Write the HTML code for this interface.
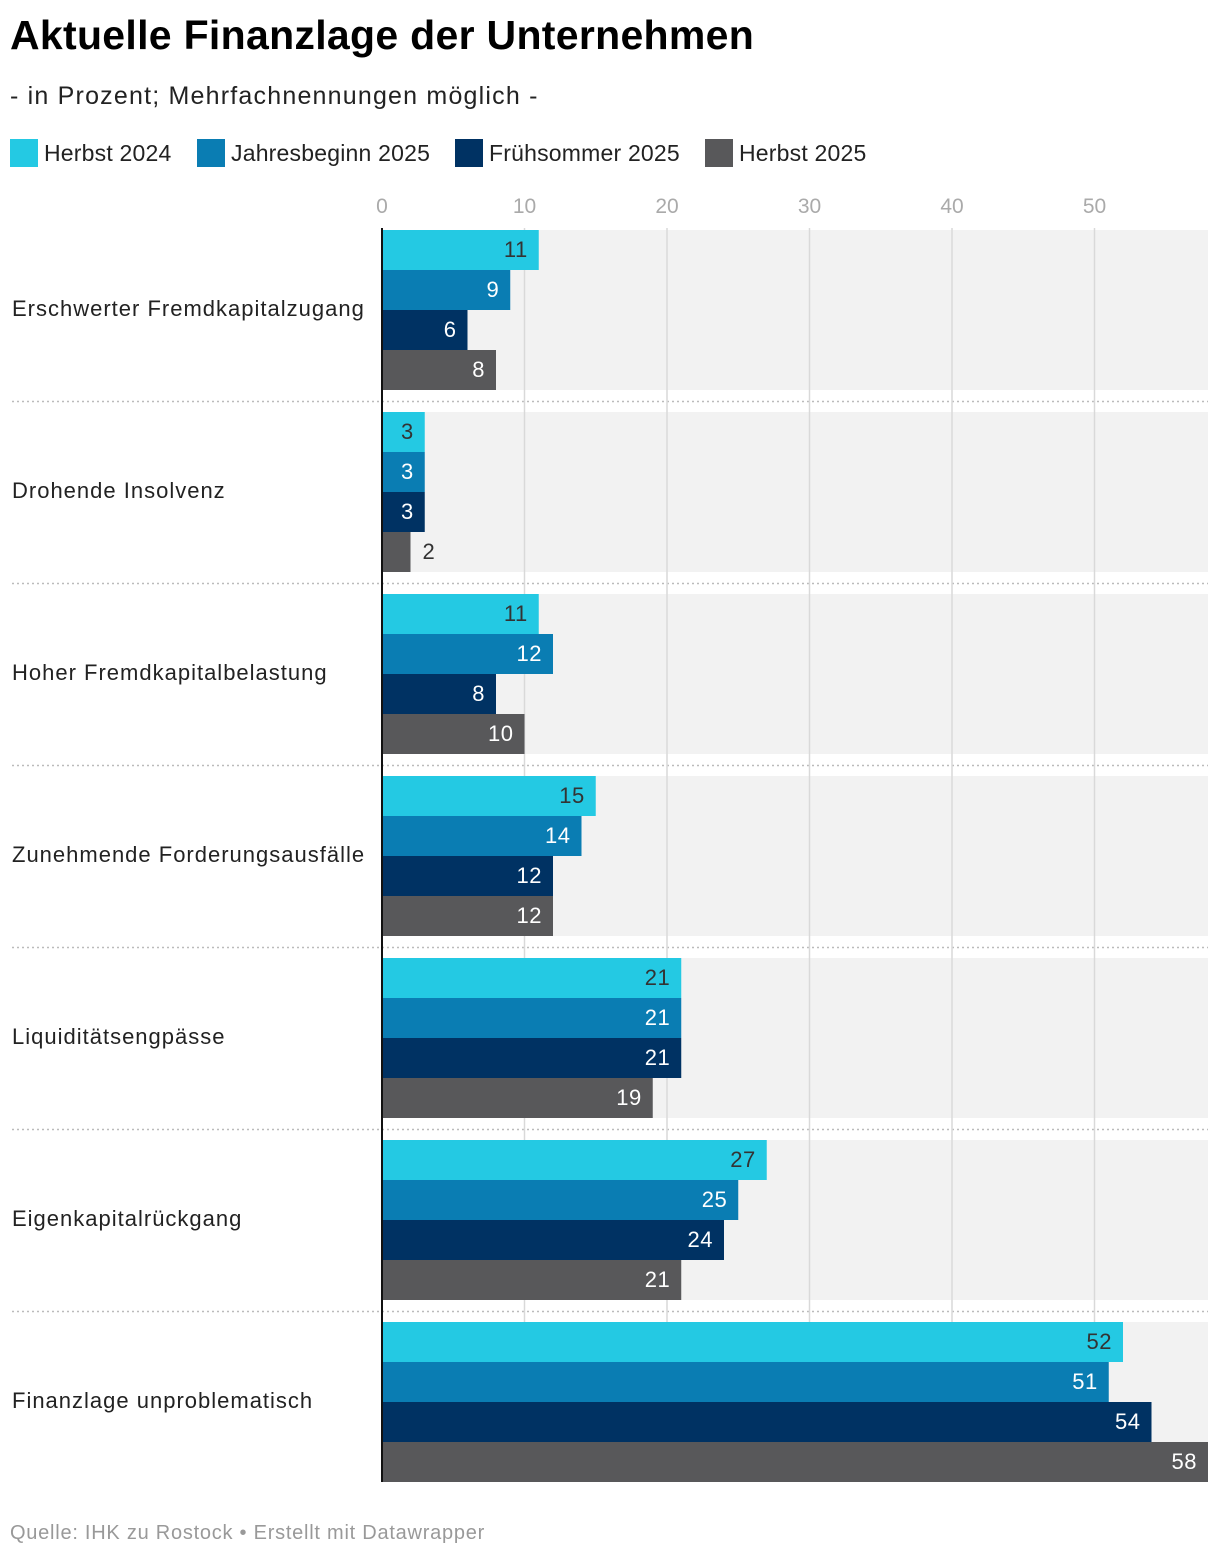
<!DOCTYPE html>
<html><head><meta charset="utf-8">
<style>
body{margin:0;background:#fff;font-family:"Liberation Sans",Arial,sans-serif;width:1220px;height:1558px;overflow:hidden;position:relative}
.t{position:absolute;white-space:nowrap}
</style></head><body>
<div class="t" style="left:10px;top:12px;font-size:41px;font-weight:bold;color:#000;letter-spacing:0.3px">Aktuelle Finanzlage der Unternehmen</div>
<div class="t" style="left:10px;top:82px;font-size:25px;color:#222;letter-spacing:1.2px">- in Prozent; Mehrfachnennungen möglich -</div>
<div id="legend"></div>
<svg id="chart" width="1220" height="1558" style="position:absolute;left:0;top:0"></svg>
<div class="t" style="left:10px;top:1522px;font-size:20px;color:#999;letter-spacing:0.75px">Quelle: IHK zu Rostock • Erstellt mit Datawrapper</div>
<script>
const categories=["Erschwerter Fremdkapitalzugang","Drohende Insolvenz","Hoher Fremdkapitalbelastung","Zunehmende Forderungsausfälle","Liquiditätsengpässe","Eigenkapitalrückgang","Finanzlage unproblematisch"];
const seriesNames=["Herbst 2024","Jahresbeginn 2025","Frühsommer 2025","Herbst 2025"];
const herbst2024=[11,3,11,15,21,27,52];
const jahresbeginn2025=[9,3,12,14,21,25,51];
const fruehsommer2025=[6,3,8,12,21,24,54];
const herbst2025=[8,2,10,12,19,21,58];
const ticks=[0,10,20,30,40,50];
const series=[herbst2024,jahresbeginn2025,fruehsommer2025,herbst2025];
const colors=["#24c9e3","#0a7db3","#003263","#58585a"];
const textColors=["#333","#fff","#fff","#fff"];
const NS="http://www.w3.org/2000/svg";
const svg=document.getElementById('chart');
const x0=382,xEnd=1208,scale=14.25;
const x=v=>x0+v*scale;
const top0=230,pitch=182,barH=40;
function mk(tag,attrs){const e=document.createElementNS(NS,tag);for(const k in attrs)e.setAttribute(k,attrs[k]);svg.appendChild(e);return e;}
const leg=document.getElementById('legend');
let lx=10;
const legW=[187,258,250,170];
seriesNames.forEach((n,i)=>{
 const d=document.createElement('div');d.className='t';
 
 
 d.style.cssText=`left:${lx}px;top:139px;font-size:23px;color:#222;display:flex;align-items:center;letter-spacing:0.2px`;
 d.innerHTML=`<span style="display:inline-block;width:28px;height:28px;background:${colors[i]};margin-right:6px"></span>${n}`;
 leg.appendChild(d);lx+=legW[i];
});
categories.forEach((c,gi)=>{
 const y=top0+gi*pitch;
 const r=mk('rect',{x:x0,y:y,width:xEnd-x0,height:barH*4,fill:'#f2f2f2'});
 
 
 if(gi<categories.length-1){
  const l=mk('line',{x1:12,x2:xEnd,y1:y+barH*4+11.5,y2:y+barH*4+11.5,stroke:'#bbb','stroke-width':1.5,'stroke-dasharray':'2,3'});
  
  
 }
 const t=mk('text',{x:12,y:y+barH*2+6,'font-size':22,fill:'#222','letter-spacing':'1px','font-family':'Liberation Sans, Arial, sans-serif'});
 
 
 t.textContent=c;
});
ticks.forEach(v=>{
 if(v>0){const g=mk('line',{x1:x(v),x2:x(v),y1:228,y2:1482,stroke:'#d9d9d9','stroke-width':1.5});
 
 }
 const t=mk('text',{x:x(v),y:213,'font-size':21,fill:'#aaa','text-anchor':'middle','font-family':'Liberation Sans, Arial, sans-serif'});
 
 
 t.textContent=v;
});
categories.forEach((c,gi)=>{
 series.forEach((s,si)=>{
  const v=s[gi];const y=top0+gi*pitch+si*barH;
  const w=Math.min(x(v),xEnd)-x0;
  const r=mk('rect',{x:x0,y:y,width:w,height:barH,fill:colors[si]});
  
  
  const inside=v>=3;
  const t=mk('text',{x:inside?x0+w-11:x0+w+12,y:y+27,'font-size':22,fill:inside?textColors[si]:'#333','text-anchor':inside?'end':'start','letter-spacing':'0.5px','font-family':'Liberation Sans, Arial, sans-serif'});
  
  
  t.textContent=v;
 });
});
const ax=mk('line',{x1:x0,x2:x0,y1:228,y2:1482,stroke:'#111','stroke-width':2});


</script>
</body></html>
